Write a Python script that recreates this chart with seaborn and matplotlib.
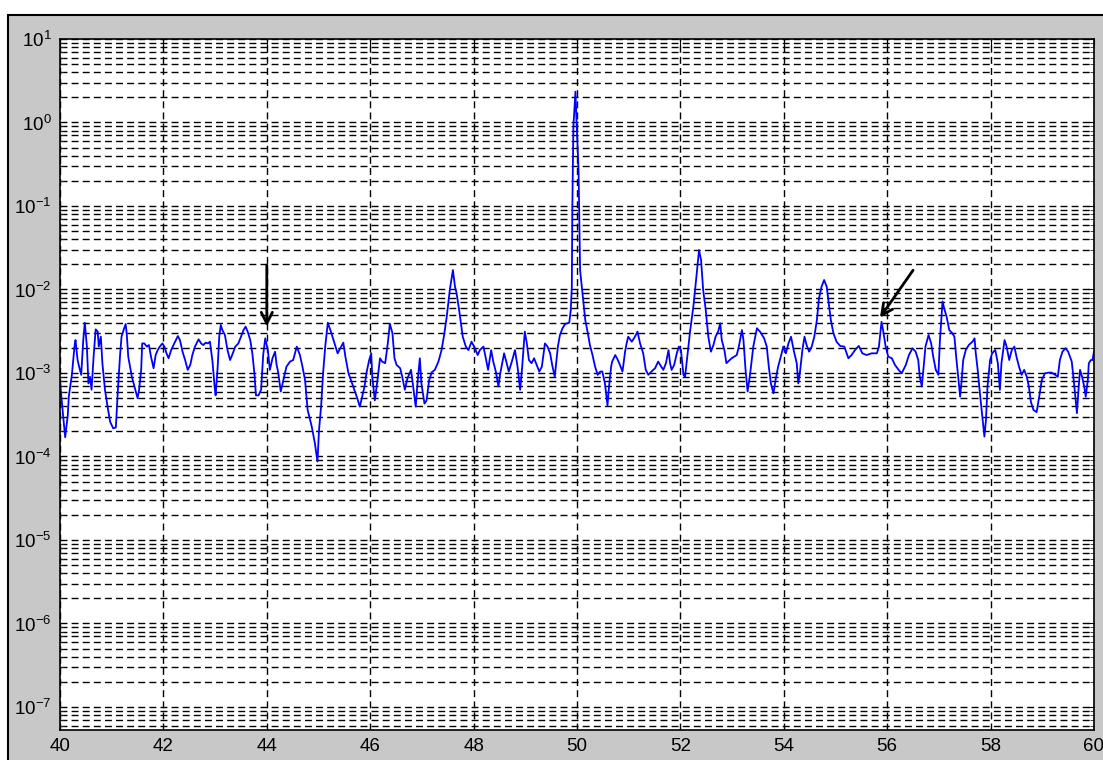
import matplotlib
matplotlib.use("Agg")
import matplotlib.pyplot as plt
from matplotlib.patches import Rectangle
from matplotlib import ticker
import numpy as np
import pandas as pd
import seaborn as sns

# ---------------- data ----------------
freq_hz = [
    40.00, 40.05, 40.10, 40.15, 40.17, 40.23, 40.28, 40.30, 40.34, 40.37,
    40.41, 40.45, 40.48, 40.52, 40.55, 40.58, 40.61, 40.65, 40.69, 40.73,
    40.75, 40.79, 40.82, 40.87, 40.92, 40.97, 41.03, 41.08, 41.12, 41.16,
    41.19, 41.23, 41.27, 41.29, 41.32, 41.39, 41.45, 41.50, 41.53, 41.57,
    41.59, 41.63, 41.68, 41.72, 41.76, 41.81, 41.85, 41.89, 41.93, 41.98,
    42.02, 42.06, 42.10, 42.15, 42.21, 42.28, 42.32, 42.37, 42.42, 42.47,
    42.52, 42.56, 42.61, 42.68, 42.73, 42.77, 42.82, 42.86, 42.90, 42.95,
    42.99, 43.01, 43.05, 43.08, 43.11, 43.14, 43.19, 43.24, 43.29, 43.33,
    43.39, 43.45, 43.50, 43.55, 43.59, 43.63, 43.68, 43.72, 43.76, 43.79,
    43.84, 43.89, 43.93, 43.97, 44.02, 44.06, 44.11, 44.16, 44.19, 44.22,
    44.27, 44.32, 44.38, 44.45, 44.51, 44.58, 44.64, 44.69, 44.74, 44.79,
    44.87, 44.93, 44.98, 45.01, 45.05, 45.09, 45.13, 45.18, 45.24, 45.31,
    45.37, 45.42, 45.48, 45.52, 45.58, 45.65, 45.74, 45.80, 45.89, 45.93,
    45.98, 46.02, 46.04, 46.09, 46.14, 46.19, 46.23, 46.29, 46.34, 46.38,
    46.43, 46.47, 46.51, 46.58, 46.62, 46.67, 46.72, 46.79, 46.83, 46.88,
    46.92, 46.96, 46.99, 47.05, 47.09, 47.14, 47.19, 47.25, 47.32, 47.38,
    47.43, 47.48, 47.54, 47.60, 47.64, 47.67, 47.72, 47.79, 47.85, 47.90,
    47.96, 48.01, 48.08, 48.12, 48.19, 48.23, 48.28, 48.34, 48.38, 48.43,
    48.48, 48.51, 48.54, 48.59, 48.64, 48.68, 48.74, 48.80, 48.85, 48.90,
    48.94, 48.99, 49.03, 49.07, 49.12, 49.17, 49.22, 49.27, 49.32, 49.38,
    49.43, 49.48, 49.52, 49.57, 49.63, 49.67, 49.72, 49.77, 49.85, 49.88,
    49.90, 49.91, 49.93, 49.97, 49.99, 50.03, 50.06, 50.16, 50.21, 50.25,
    50.30, 50.35, 50.40, 50.45, 50.49, 50.54, 50.59, 50.62, 50.66, 50.68,
    50.74, 50.79, 50.83, 50.88, 50.93, 50.96, 50.99, 51.06, 51.12, 51.17,
    51.22, 51.28, 51.33, 51.38, 51.44, 51.51, 51.57, 51.63, 51.67, 51.72,
    51.77, 51.80, 51.83, 51.88, 51.93, 51.97, 52.01, 52.06, 52.09, 52.14,
    52.19, 52.25, 52.31, 52.36, 52.40, 52.44, 52.49, 52.54, 52.59, 52.64,
    52.68, 52.73, 52.77, 52.80, 52.85, 52.89, 52.99, 53.09, 53.13, 53.19,
    53.22, 53.26, 53.30, 53.35, 53.41, 53.48, 53.54, 53.62, 53.67, 53.71,
    53.75, 53.80, 53.84, 53.89, 53.95, 53.99, 54.04, 54.09, 54.14, 54.19,
    54.25, 54.28, 54.31, 54.36, 54.40, 54.44, 54.49, 54.54, 54.59, 54.64,
    54.68, 54.73, 54.78, 54.83, 54.87, 54.91, 54.96, 55.02, 55.09, 55.17,
    55.25, 55.31, 55.38, 55.45, 55.52, 55.60, 55.70, 55.80, 55.84, 55.89,
    55.92, 55.97, 56.02, 56.09, 56.15, 56.22, 56.28, 56.36, 56.42, 56.49,
    56.55, 56.60, 56.63, 56.67, 56.70, 56.74, 56.80, 56.85, 56.89, 56.94,
    56.99, 57.02, 57.07, 57.11, 57.15, 57.20, 57.26, 57.30, 57.34, 57.38,
    57.41, 57.44, 57.47, 57.52, 57.58, 57.65, 57.69, 57.71, 57.75, 57.80,
    57.84, 57.88, 57.91, 57.94, 57.99, 58.03, 58.09, 58.14, 58.18, 58.21,
    58.27, 58.31, 58.36, 58.41, 58.46, 58.50, 58.55, 58.60, 58.65, 58.70,
    58.74, 58.78, 58.83, 58.89, 58.94, 58.99, 59.05, 59.12, 59.18, 59.25,
    59.30, 59.34, 59.39, 59.45, 59.50, 59.57, 59.62, 59.67, 59.70, 59.73,
    59.77, 59.81, 59.84, 59.88, 59.90, 59.94, 59.97, 60.00,
]

amplitude = [
    7.9e-4, 3.6e-4, 1.7e-4, 3.1e-4, 5.2e-4, 9.5e-4, 2.07e-3, 2.48e-3, 1.43e-3, 1.19e-3,
    9.5e-4, 2.48e-3, 4.0e-3, 2.07e-3, 7.5e-4, 9.0e-4, 6.3e-4, 1.57e-3, 3.33e-3, 3.13e-3,
    2.07e-3, 2.72e-3, 1.31e-3, 6.3e-4, 3.95e-4, 2.6e-4, 2.17e-4, 2.23e-4, 6.3e-4, 1.57e-3,
    2.72e-3, 3.27e-3, 3.86e-3, 2.99e-3, 1.57e-3, 9.0e-4, 6.5e-4, 5.0e-4, 6.3e-4, 1.09e-3,
    2.26e-3, 2.26e-3, 2.07e-3, 2.16e-3, 1.57e-3, 1.14e-3, 1.64e-3, 1.88e-3, 2.07e-3, 2.26e-3,
    2.07e-3, 1.72e-3, 1.50e-3, 1.88e-3, 2.26e-3, 2.77e-3, 2.48e-3, 1.80e-3, 1.43e-3, 1.09e-3,
    1.25e-3, 1.64e-3, 2.07e-3, 2.53e-3, 2.26e-3, 2.16e-3, 2.31e-3, 2.26e-3, 2.37e-3, 1.37e-3,
    6.9e-4, 5.4e-4, 1.19e-3, 2.72e-3, 3.76e-3, 3.27e-3, 2.85e-3, 1.88e-3, 1.43e-3, 1.64e-3,
    2.07e-3, 2.26e-3, 2.72e-3, 3.27e-3, 3.59e-3, 3.13e-3, 2.48e-3, 1.72e-3, 9.9e-4, 5.4e-4,
    5.4e-4, 6.3e-4, 1.64e-3, 2.6e-3, 1.88e-3, 1.09e-3, 1.50e-3, 1.80e-3, 1.25e-3, 1.02e-3,
    6.0e-4, 8.2e-4, 1.19e-3, 1.37e-3, 1.43e-3, 2.07e-3, 1.64e-3, 1.19e-3, 8.2e-4, 3.6e-4,
    2.27e-4, 1.44e-4, 8.7e-5, 2.07e-4, 3.95e-4, 1.02e-3, 2.07e-3, 4.0e-3, 3.13e-3, 2.26e-3,
    1.72e-3, 1.97e-3, 2.31e-3, 1.57e-3, 9.9e-4, 7.5e-4, 5.2e-4, 3.95e-4, 6.9e-4, 1.02e-3,
    1.43e-3, 1.72e-3, 9.0e-4, 4.7e-4, 8.2e-4, 1.50e-3, 1.37e-3, 1.31e-3, 2.26e-3, 3.9e-3,
    2.99e-3, 1.50e-3, 1.25e-3, 1.14e-3, 9.0e-4, 6.3e-4, 8.6e-4, 1.09e-3, 6.9e-4, 3.95e-4,
    8.2e-4, 1.50e-3, 7.5e-4, 4.3e-4, 4.7e-4, 8.2e-4, 1.02e-3, 1.09e-3, 1.37e-3, 1.88e-3,
    2.85e-3, 4.7e-3, 9.9e-3, 1.71e-2, 1.08e-2, 9.1e-3, 5.7e-3, 2.72e-3, 2.07e-3, 1.88e-3,
    2.37e-3, 2.07e-3, 1.64e-3, 1.88e-3, 2.07e-3, 1.57e-3, 1.09e-3, 1.88e-3, 1.37e-3, 1.04e-3,
    6.9e-4, 9.5e-4, 1.19e-3, 1.72e-3, 1.31e-3, 1.04e-3, 1.37e-3, 1.88e-3, 1.19e-3, 6.3e-4,
    1.19e-3, 3.13e-3, 2.26e-3, 1.43e-3, 1.31e-3, 1.50e-3, 1.25e-3, 1.04e-3, 1.19e-3, 2.26e-3,
    2.07e-3, 1.72e-3, 1.25e-3, 9.0e-4, 2.07e-3, 2.85e-3, 3.43e-3, 3.86e-3, 4.0e-3, 5.7e-3,
    1.08e-2, 9.8e-2, 8.9e-1, 2.34, 1.07, 2.7e-1, 1.7e-2, 4.3e-3, 2.99e-3, 2.16e-3,
    1.64e-3, 1.19e-3, 9.5e-4, 1.04e-3, 1.04e-3, 7.5e-4, 4.1e-4, 6.9e-4, 1.19e-3, 1.37e-3,
    1.64e-3, 1.43e-3, 1.25e-3, 1.04e-3, 1.80e-3, 2.26e-3, 2.72e-3, 2.37e-3, 2.72e-3, 3.13e-3,
    2.26e-3, 1.72e-3, 1.09e-3, 9.5e-4, 1.04e-3, 1.14e-3, 1.37e-3, 1.19e-3, 1.09e-3, 1.31e-3,
    1.88e-3, 1.31e-3, 1.09e-3, 1.25e-3, 1.72e-3, 2.07e-3, 1.88e-3, 9.5e-4, 9.0e-4, 1.72e-3,
    3.27e-3, 6.2e-3, 1.43e-2, 2.97e-2, 2.25e-2, 9.9e-3, 5.7e-3, 2.72e-3, 1.80e-3, 2.17e-3,
    2.72e-3, 3.13e-3, 3.94e-3, 2.48e-3, 1.89e-3, 1.31e-3, 1.50e-3, 1.64e-3, 2.07e-3, 3.27e-3,
    2.48e-3, 1.09e-3, 6.0e-4, 9.9e-4, 2.07e-3, 3.43e-3, 3.13e-3, 2.60e-3, 2.07e-3, 1.19e-3,
    7.5e-4, 5.7e-4, 8.2e-4, 1.19e-3, 1.64e-3, 2.07e-3, 1.72e-3, 2.26e-3, 2.72e-3, 1.89e-3,
    1.31e-3, 7.5e-4, 9.9e-4, 1.89e-3, 2.72e-3, 2.17e-3, 1.80e-3, 2.07e-3, 2.72e-3, 4.3e-3,
    7.8e-3, 1.08e-2, 1.30e-2, 1.08e-2, 6.8e-3, 4.3e-3, 2.99e-3, 2.37e-3, 2.11e-3, 2.07e-3,
    1.50e-3, 1.64e-3, 1.89e-3, 2.11e-3, 1.72e-3, 1.64e-3, 1.72e-3, 1.72e-3, 2.07e-3, 4.1e-3,
    3.27e-3, 2.07e-3, 1.57e-3, 1.50e-3, 1.25e-3, 1.09e-3, 9.9e-4, 1.25e-3, 1.64e-3, 1.98e-3,
    1.80e-3, 1.43e-3, 9.0e-4, 6.9e-4, 1.09e-3, 2.07e-3, 2.85e-3, 2.27e-3, 1.57e-3, 1.09e-3,
    9.5e-4, 2.48e-3, 7.2e-3, 5.7e-3, 4.7e-3, 3.27e-3, 2.99e-3, 2.72e-3, 1.43e-3, 8.2e-4,
    5.2e-4, 8.2e-4, 1.43e-3, 1.89e-3, 2.17e-3, 2.37e-3, 2.60e-3, 1.80e-3, 1.09e-3, 5.2e-4,
    3.0e-4, 1.73e-4, 2.73e-4, 6.9e-4, 1.43e-3, 1.72e-3, 1.89e-3, 1.31e-3, 6.3e-4, 1.31e-3,
    2.48e-3, 2.07e-3, 1.43e-3, 1.89e-3, 2.07e-3, 1.57e-3, 1.19e-3, 9.5e-4, 1.09e-3, 9.0e-4,
    6.9e-4, 4.5e-4, 3.6e-4, 3.4e-4, 5.2e-4, 8.2e-4, 9.9e-4, 1.01e-3, 1.01e-3, 9.5e-4,
    9.0e-4, 1.43e-3, 1.80e-3, 1.98e-3, 1.80e-3, 1.37e-3, 6.9e-4, 3.3e-4, 6.3e-4, 1.09e-3,
    9.0e-4, 6.9e-4, 5.2e-4, 8.2e-4, 1.31e-3, 1.43e-3, 1.43e-3, 1.80e-3,
]

x_ticks = [40, 42, 44, 46, 48, 50, 52, 54, 56, 58, 60]
y_decades = [-7, -6, -5, -4, -3, -2, -1, 0, 1]

# annotation arrows (tail -> head), in data units
arrow_tails = [(44.0, 1.96e-2), (56.50, 1.7e-2)]
arrow_heads = [(44.0, 3.6e-3), (55.86, 4.6e-3)]

# ---------------- style ----------------
sns.set_style("white")
plt.rcParams["font.family"] = ["Liberation Sans", "DejaVu Sans"]
plt.rcParams["mathtext.default"] = "regular"
plt.rcParams["axes.unicode_minus"] = False

W, H = 1103, 760
fig = plt.figure(figsize=(W / 100, H / 100), dpi=100, facecolor="white")
fig.patches.append(Rectangle((8 / W, -0.05), 1.2, 1 - 15 / H + 0.05,
                             transform=fig.transFigure, facecolor="#c8c8c8",
                             edgecolor="black", lw=1.5, zorder=-10))

ax = fig.add_axes([60 / W, 30 / H, 1034 / W, 691 / H])
ax.set_facecolor("white")

df = pd.DataFrame({"freq": freq_hz, "amp": amplitude})
sns.lineplot(data=df, x="freq", y="amp", ax=ax, color="#0000ff", lw=1.3,
             sort=False, estimator=None)

ax.set_yscale("log")
ax.set_xlim(x_ticks[0], x_ticks[-1])
ax.set_ylim(5.3e-8, 10.0 ** y_decades[-1])
ax.set_xticks(x_ticks)
ax.set_xticklabels([str(t) for t in x_ticks])
ax.yaxis.set_major_locator(ticker.FixedLocator([10.0 ** d for d in y_decades]))
ax.yaxis.set_minor_locator(ticker.LogLocator(base=10, subs=np.arange(2, 10), numticks=50))
ax.yaxis.set_major_formatter(ticker.FuncFormatter(lambda v, p: r"$10^{%d}$" % round(np.log10(v))))
ax.yaxis.set_minor_formatter(ticker.NullFormatter())
ax.set_xlabel("")
ax.set_ylabel("")

dash = (0, (5, 3))
ax.grid(True, which="major", axis="x", color="black", lw=1.0, ls=dash)
ax.grid(True, which="both", axis="y", color="black", lw=1.0, ls=dash)
ax.set_axisbelow(True)

ax.tick_params(axis="both", which="major", direction="in", length=5, width=0.8,
               labelsize=13.5, colors="black", top=True, right=True, pad=6)
ax.tick_params(axis="y", which="minor", direction="in", length=3, width=0.6,
               left=True, right=True)
for s in ax.spines.values():
    s.set_color("black")
    s.set_linewidth(1.2)

for (tx, ty), (hx, hy) in zip(arrow_tails, arrow_heads):
    ax.annotate("", xy=(hx, hy), xytext=(tx, ty),
                arrowprops=dict(arrowstyle="->", color="black", lw=2.0,
                                mutation_scale=20, shrinkA=0, shrinkB=0))

if ax.get_legend() is not None:
    ax.get_legend().remove()

fig.savefig("out.png", dpi=100, facecolor=fig.get_facecolor())
